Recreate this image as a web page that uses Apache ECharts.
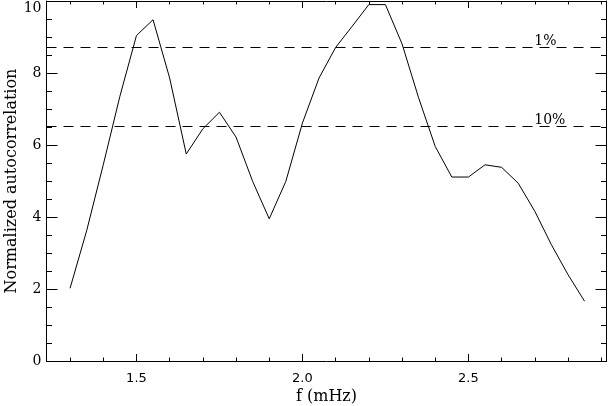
<!DOCTYPE html>
<html><head><meta charset="utf-8">
<script src="https://cdn.jsdelivr.net/npm/echarts@6/dist/echarts.min.js"></script>
<style>html,body{margin:0;padding:0;background:#fff}#c{width:608px;height:406px}</style>
</head><body><div id="c"></div>
<script>
// ---- data ----
const freq = [1.30,1.35,1.40,1.45,1.50,1.55,1.60,1.65,1.70,1.75,1.80,1.85,1.90,1.95,2.00,2.05,
              2.10,2.15,2.20,2.25,2.30,2.35,2.40,2.45,2.50,2.55,2.60,2.65,2.70,2.75,2.80,2.85];
const autocorr = [2.02,3.62,5.45,7.35,9.04,9.48,7.86,5.75,6.45,6.91,6.22,4.99,3.95,4.99,6.61,7.86,
                  8.71,9.30,9.90,9.90,8.81,7.31,5.96,5.11,5.11,5.45,5.38,4.94,4.16,3.23,2.40,1.66];
const xMajorTicks = [1.5, 2.0, 2.5];
const xMinorTicks = [1.3,1.4,1.6,1.7,1.8,1.9,2.1,2.2,2.3,2.4,2.6,2.7,2.8,2.9];
const thresholds = [8.72, 6.52];
const thresholdLabels = ['1%', '10%'];
const thresholdLabelX = 2.70;
const xMin = 1.229, xMax = 2.916;
const yMin = 0, yMax = 10, yInterval = 2;

// ---- chart ----
const black = '#000';
const chart = echarts.init(document.getElementById('c'), null, {renderer: 'canvas'});
function xAx(pos, ticks, len, withLine, withLabel) {
  const ax = {
    type: 'value', position: pos, min: xMin, max: xMax,
    axisLine: {show: withLine, onZero: false, lineStyle: {color: black, width: 1}},
    axisTick: {show: true, inside: true, length: len, customValues: ticks, lineStyle: {color: black, width: 1}},
    axisLabel: {show: withLabel, customValues: ticks, formatter: v => v.toFixed(1), margin: 11,
                color: black, fontFamily: 'DejaVu Sans', fontSize: 13},
    splitLine: {show: false}
  };
  if (withLabel) {
    ax.name = 'f (mHz)'; ax.nameLocation = 'middle'; ax.nameGap = 28; ax.nameMoveOverlap = false;
    ax.nameTextStyle = {color: black, fontFamily: 'DejaVu Serif', fontSize: 16};
  }
  return ax;
}
function yAx(pos, withLabel) {
  const ax = {
    type: 'value', position: pos, min: yMin, max: yMax, interval: yInterval,
    axisLine: {show: true, onZero: false, lineStyle: {color: black, width: 1}},
    axisTick: {show: true, inside: true, length: 11, lineStyle: {color: black, width: 1}},
    minorTick: {show: true, splitNumber: 4, length: 5.5, lineStyle: {color: black, width: 1}},
    axisLabel: {show: withLabel, margin: 5, color: black, fontFamily: 'DejaVu Serif', fontSize: 14,
                verticalAlignMaxLabel: 'top'},
    splitLine: {show: false}, minorSplitLine: {show: false}
  };
  if (withLabel) {
    ax.name = 'Normalized autocorrelation'; ax.nameLocation = 'middle'; ax.nameGap = 27;
    ax.nameMoveOverlap = false;
    ax.nameTextStyle = {color: black, fontFamily: 'DejaVu Serif', fontSize: 16};
  }
  return ax;
}
chart.setOption({
  animation: false,
  backgroundColor: '#fff',
  grid: {left: 46.5, right: 1.5, top: 1, bottom: 45, containLabel: false, outerBoundsMode: 'none'},
  xAxis: [
    xAx('bottom', xMajorTicks, 7, true, true),
    xAx('bottom', xMinorTicks, 3.5, false, false),
    xAx('top', xMajorTicks, 7, true, false),
    xAx('top', xMinorTicks, 3.5, false, false)
  ],
  yAxis: [yAx('left', true), yAx('right', false)],
  series: [{
    type: 'line', xAxisIndex: 0, yAxisIndex: 0,
    data: freq.map((f, i) => [f, autocorr[i]]),
    showSymbol: false, symbol: 'none',
    lineStyle: {color: black, width: 1},
    silent: true,
    markLine: {
      silent: true, symbol: ['none', 'none'],
      lineStyle: {color: black, width: 1, type: [10, 7]},
      label: {show: false},
      emphasis: {disabled: true},
      data: thresholds.map(v => ({yAxis: v}))
    },
    markPoint: {
      silent: true, symbol: 'circle', symbolSize: 1,
      itemStyle: {color: 'rgba(0,0,0,0)'},
      label: {show: true, position: [0, 2], formatter: '{b}', align: 'left', verticalAlign: 'bottom',
              color: black, fontFamily: 'DejaVu Serif', fontSize: 14},
      emphasis: {disabled: true},
      data: thresholds.map((v, i) => ({name: thresholdLabels[i], coord: [thresholdLabelX, v]}))
    }
  }]
});
</script>
</body></html>
